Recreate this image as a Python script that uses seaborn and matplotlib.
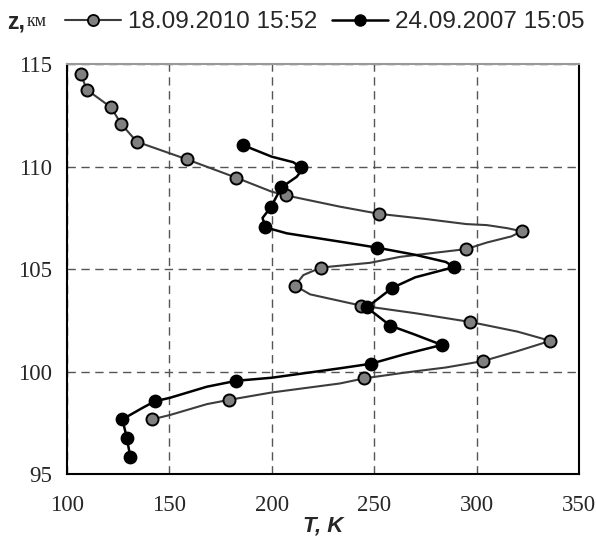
import numpy as np
import pandas as pd
import seaborn as sns
import matplotlib.pyplot as plt
from matplotlib.lines import Line2D
from matplotlib.ticker import MultipleLocator

# profile 18.09.2010 15:52 (line + sampled markers)
t10_line = [106.7, 109.7, 121.5, 126.4, 134.1, 158.6, 182.5, 200.0, 207.0, 233.3,
            252.4, 275.0, 295.0, 305.0, 315.0, 322.0, 317.0, 305.0, 295.0, 262.6,
            248.0, 224.1, 215.4, 211.4, 218.7, 243.6, 270.0, 297.0, 320.0, 336.0,
            320.0, 303.0, 285.0, 265.0, 245.2, 233.3, 200.0, 179.2, 168.3, 150.3, 141.7]
z10_line = [114.54, 113.76, 112.90, 112.10, 111.22, 110.36, 109.47, 108.78, 108.60, 108.05,
            107.70, 107.45, 107.20, 107.15, 107.00, 106.85, 106.60, 106.30, 105.98, 105.60,
            105.31, 105.08, 104.71, 104.19, 103.77, 103.22, 102.85, 102.42, 101.95, 101.50,
            101.00, 100.51, 100.20, 99.95, 99.67, 99.42, 98.98, 98.62, 98.41, 97.88, 97.67]
t10_mark = [106.7, 109.7, 121.5, 126.4, 134.1, 158.6, 182.5, 207.0, 252.4, 322.0,
            295.0, 224.1, 211.4, 243.6, 297.0, 336.0, 303.0, 245.2, 179.2, 141.7]
z10_mark = [114.54, 113.76, 112.90, 112.10, 111.22, 110.36, 109.47, 108.60, 107.70, 106.85,
            105.98, 105.08, 104.19, 103.22, 102.42, 101.50, 100.51, 99.67, 98.62, 97.67]

# profile 24.09.2007 15:05
t07_line = [185.8, 200.0, 210.5, 214.2, 214.7, 212.2, 204.7, 199.5, 195.5, 196.9,
            207.3, 236.6, 251.4, 270.0, 285.0, 289.0, 270.0, 258.9, 246.4, 257.9,
            270.0, 283.0, 265.0, 248.3, 233.3, 200.0, 182.7, 168.3, 150.3, 143.0,
            137.3, 127.1, 129.2, 131.0]
z07_line = [111.06, 110.49, 110.22, 109.97, 109.84, 109.51, 108.99, 108.02, 107.50, 107.04,
            106.75, 106.29, 106.05, 105.70, 105.35, 105.10, 104.60, 104.09, 103.13, 102.24,
            101.80, 101.30, 100.85, 100.38, 100.16, 99.70, 99.55, 99.26, 98.72, 98.55,
            98.25, 97.67, 96.77, 95.81]
t07_mark = [185.8, 214.2, 204.7, 199.5, 196.9, 251.4, 289.0, 258.9, 246.4, 257.9,
            283.0, 248.3, 182.7, 143.0, 127.1, 129.2, 131.0]
z07_mark = [111.06, 109.97, 108.99, 108.02, 107.04, 106.05, 105.10, 104.09, 103.13, 102.24,
            101.30, 100.38, 99.55, 98.55, 97.67, 96.77, 95.81]

labels = ["18.09.2010 15:52", "24.09.2007 15:05"]

sns.set_style("white")
plt.rcParams['font.family'] = ['Liberation Serif', 'DejaVu Serif']

fig = plt.figure(figsize=(5.96, 5.39), dpi=100)
ax = fig.add_axes([0.1123, 0.1206, 0.8592, 0.7601])

kw = dict(sort=False, estimator=None, ax=ax, legend=False)
sns.lineplot(x=t10_line, y=z10_line, color="#3c3c3c", linewidth=1.5, **kw)
sns.lineplot(x=t07_line, y=z07_line, color="black", linewidth=1.8, **kw)
sns.scatterplot(x=t10_mark, y=z10_mark, color="#808080", edgecolor="black",
                linewidth=1.4, s=75, ax=ax, zorder=3, legend=False)
sns.scatterplot(x=t07_mark, y=z07_mark, color="black", edgecolor="black",
                linewidth=1, s=80, ax=ax, zorder=4, legend=False)

ax.set_xlim(100, 350)
ax.set_ylim(95, 115)
ax.xaxis.set_major_locator(MultipleLocator(50))
ax.xaxis.set_minor_locator(MultipleLocator(10))
ax.yaxis.set_major_locator(MultipleLocator(5))
ax.yaxis.set_minor_locator(MultipleLocator(1))
ax.tick_params(which='both', direction='in', length=5, width=1, color='black',
               top=False, right=False)
ax.tick_params(axis='x', which='major', labelsize=16.5, pad=15)
ax.tick_params(axis='y', which='major', labelsize=16.5, pad=11)
ax.grid(True, which='major', linestyle=(0, (6, 4)), color='#555555', linewidth=1)
for side in ['left', 'bottom', 'right']:
    ax.spines[side].set_color('black')
    ax.spines[side].set_linewidth(1.5)
ax.spines['top'].set_color('#999999')
ax.spines['top'].set_linewidth(1.5)

ax.set_xlabel("T, K", fontsize=16, fontweight='bold', fontstyle='italic',
              family=['Liberation Sans'], labelpad=0)
ax.set_ylabel("")

# legend row at the top
fig.text(7.6 / 596, 1 - 22 / 539, "z,", fontsize=16.5, fontweight='bold',
         family=['Liberation Sans'], va='center', ha='left')
fig.text(27 / 596, 1 - 22 / 539, "км", fontsize=13, family=['Liberation Serif'],
         va='center', ha='left')
handles = [
    Line2D([], [], color="#3c3c3c", lw=1.5, marker='o', ms=8,
           markerfacecolor="#808080", markeredgecolor="black", markeredgewidth=1.3),
    Line2D([], [], color="black", lw=1.8, marker='o', ms=8,
           markerfacecolor="black", markeredgecolor="black"),
]
fig.legend(handles, labels, ncol=2, loc='center left',
           bbox_to_anchor=(65 / 596, 1 - 22 / 539), frameon=False,
           prop={'family': 'Liberation Sans', 'size': 17.5},
           handlelength=2.3, handletextpad=0.3, columnspacing=0.6,
           borderpad=0, borderaxespad=0)

fig.savefig("out.png", dpi=100)
